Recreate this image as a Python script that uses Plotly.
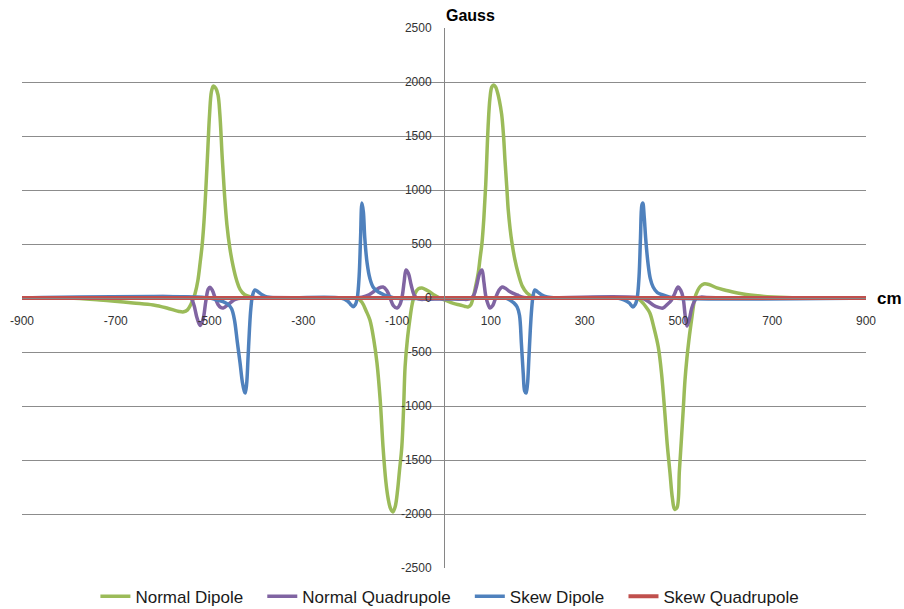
import plotly.graph_objects as go

# Field components along the beam line (cm vs Gauss)
normal_dipole_x = [-900, -800, -734, -663, -620, -591, -565, -555, -547, -540, -535, -531, -525,
                   -520, -516, -512, -508, -504, -500, -496, -492, -487, -482, -478, -473, -468,
                   -463, -457, -450, -442, -435, -425, -410, -390, -300, -200, -185, -175, -166,
                   -158, -150, -143, -136, -130, -124, -119, -114, -109, -104, -99, -95, -90, -86,
                   -83, -78, -73, -68, -62, -55, -47, -38, -30, -20, -9, 5, 20, 34, 45, 51, 57,
                   62, 68, 73, 77, 81, 85, 89, 94, 98, 102, 106, 110, 114, 118, 123, 127, 130,
                   134, 137, 141, 145, 151, 158, 167, 177, 190, 210, 300, 400, 415, 425, 432, 439,
                   448, 457, 464, 471, 476, 482, 487, 492, 497, 502, 506, 510, 514, 518, 522, 525,
                   529, 535, 541, 547, 554, 565, 582, 600, 616, 635, 653, 675, 702, 730, 760, 800,
                   900]
normal_dipole_y = [0, 0, -19, -46, -65, -93, -125, -128, -110, -60, -10, 40, 160,
                   330, 480, 700, 1000, 1350, 1700, 1910, 1962, 1945, 1880, 1700, 1300, 950,
                   680, 470, 300, 160, 80, 30, 8, 0, 0, 0, 0, -40, -120,
                   -204, -380, -600, -950, -1380, -1700, -1860, -1950, -1981, -1930, -1780, -1600, -1380, -1000,
                   -639, -380, -204, -60, 40, 85, 93, 75, 56, 25, 0, -25, -50, -65, -78, -83, -65,
                   0, 120, 231, 370, 509, 740, 1050, 1583, 1850, 1955, 1972, 1955, 1905, 1830, 1700, 1500, 1278,
                   1020, 815, 640, 509, 360, 231, 110, 46, 10, 0, 0, 0, -10, -50, -90, -139,
                   -280, -454, -700, -1065, -1350, -1620, -1850, -1958, -1940, -1600, -1330, -1050, -759, -560, -400, -296,
                   -170, 0, 70, 110, 130, 125, 93, 72, 56, 40, 28, 18, 10, 5, 2, 0,
                   0]

normal_quad_x = [-900, -700, -640, -600, -560, -540, -533, -527, -520, -514, -508, -503, -499,
                 -494, -488, -482, -476, -471, -466, -460, -453, -445, -430, -200, -175, -160,
                 -151, -140, -130, -122, -115, -108, -100, -94, -89, -85, -81, -76, -70, -64, -58,
                 -50, -40, -20, 0, 20, 40, 50, 58, 64, 70, 76, 81, 85, 89, 94, 98, 104, 110, 117,
                 124, 131, 140, 156, 170, 200, 420, 435, 446, 456, 467, 476, 485, 492, 499, 505,
                 510, 514, 518, 523, 528, 534, 539, 548, 560, 600, 900]
normal_quad_y = [0, 0, 10, 15, 10, 0, -70, -180, -255, -200, -30, 80, 100,
                 70, 0, -60, -88, -93, -80, -60, -35, -12, 0, 0, 8, 30,
                 56, 90, 102, 70, 0, -70, -93, -60, 20, 150, 260, 230, 120, 30, 0,
                 -12, -12, -10, -10, -10, -12, -12, 0, 30, 120, 230, 260, 150, 20, -60, -93, -70, 0, 70,
                 102, 90, 60, 28, 5, 0, 0, -30, -65, -85, -93, -60, -20, 40, 102, 70,
                 0, -150, -259, -200, -100, -30, 0, 8, 5, 0, 0]

skew_dipole_x = [-900, -500, -484, -470, -460, -453, -447, -441, -435, -430, -426, -424, -421,
                 -418, -415, -412, -408, -403, -396, -388, -378, -360, -220, -205, -199, -194,
                 -189, -185, -181, -178, -175, -172, -169, -164, -158, -151, -140, -128, -115,
                 -104, 100, 130, 141, 149, 156, 161, 165, 169, 172, 175, 178, 181, 184, 187, 190,
                 194, 200, 208, 220, 240, 370, 385, 395, 403, 408, 412, 416, 419, 422, 424, 427,
                 430, 435, 440, 446, 455, 467, 480, 490, 900]
skew_dipole_y = [0, 0, -20, -35, -60, -100, -200, -400, -600, -780, -860, -880, -800,
                 -560, -300, -100, 30, 74, 55, 30, 10, 0, 0, -30, -60, -80,
                 -60, 0, 200, 550, 880, 800, 560, 324, 180, 100, 55, 30, 12,
                 0, 0, 0, -20, -45, -83, -160, -417, -700, -860, -880, -800, -560, -300, -100, 20,
                 74, 55, 30, 10, 0, 0, -20, -45, -83, -60, 0, 200, 550, 860, 880, 750,
                 560, 324, 180, 102, 50, 28, 10, 0, 0]

skew_quad_x = [-900, -450, 0, 450, 900]
skew_quad_y = [0, 0, 0, 0, 0]

x_ticks = [-900, -700, -500, -300, -100, 100, 300, 500, 700, 900]
y_ticks = [2500, 2000, 1500, 1000, 500, 0, -500, -1000, -1500, -2000, -2500]

# trailing non-breaking spaces widen the gap between legend entries
pad = "\u00a0\u00a0\u00a0"
series = [
    ("Normal Dipole" + pad, normal_dipole_x, normal_dipole_y, "#9BBB59", 3.5),
    ("Normal Quadrupole" + pad, normal_quad_x, normal_quad_y, "#8064A2", 3.5),
    ("Skew Dipole" + pad, skew_dipole_x, skew_dipole_y, "#4F81BD", 3.5),
    ("Skew Quadrupole", skew_quad_x, skew_quad_y, "#C0504D", 4),
]

fig = go.Figure()
for name, xs, ys, color, width in series:
    fig.add_trace(go.Scatter(
        x=xs, y=ys, name=name, mode="lines",
        line=dict(color=color, width=width, shape="spline", smoothing=1.0),
    ))

tick_font = dict(family="Liberation Sans, Arial, sans-serif", size=12, color="#333333")

fig.update_layout(
    width=904, height=609,
    margin=dict(l=22, r=38, t=28, b=41, autoexpand=False),
    paper_bgcolor="white", plot_bgcolor="white",
    showlegend=True,
    legend=dict(
        orientation="h", x=0.507, xanchor="center",
        yref="container", y=0.02, yanchor="middle",
        font=dict(family="Liberation Sans, Arial, sans-serif", size=17, color="#1a1a1a"),
        itemwidth=30, tracegroupgap=0,
    ),
    xaxis=dict(
        range=[-900, 900], anchor="free", position=0.5, automargin=False,
        tickvals=x_ticks, ticktext=[str(v) for v in x_ticks],
        showgrid=False, zeroline=False,
        showline=True, linecolor="#868686", linewidth=1,
        ticks="", ticklabelstandoff=12, tickfont=tick_font,
    ),
    yaxis=dict(
        range=[-2500, 2500], anchor="free", position=0.5, automargin=False,
        tickvals=y_ticks, ticktext=[str(v) for v in y_ticks],
        showgrid=True, gridcolor="#8c8c8c", gridwidth=1, zeroline=False,
        showline=True, linecolor="#868686", linewidth=1,
        ticks="", ticklabelstandoff=10, tickfont=tick_font,
    ),
    annotations=[
        dict(text="<b>Gauss</b>", xref="paper", yref="paper", x=0.5, y=1.0,
             xanchor="left", yanchor="bottom", yshift=2, xshift=0, showarrow=False,
             font=dict(family="Liberation Sans, Arial, sans-serif", size=16, color="black")),
        dict(text="<b>cm</b>", xref="paper", yref="paper", x=1.0, y=0.5,
             xanchor="left", yanchor="middle", xshift=9, showarrow=False,
             font=dict(family="Liberation Sans, Arial, sans-serif", size=17, color="black")),
    ],
)

fig.write_html("out.html")
